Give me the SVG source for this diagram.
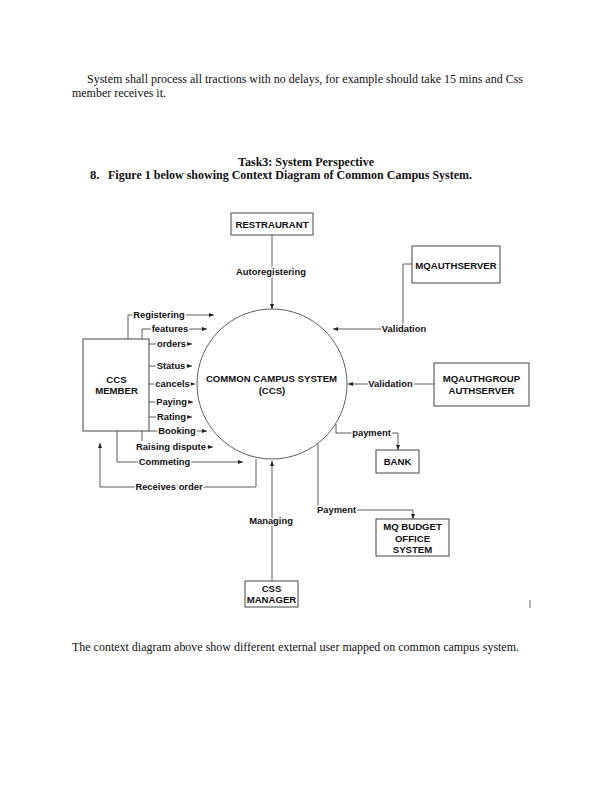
<svg xmlns="http://www.w3.org/2000/svg" width="612" height="792" viewBox="0 0 612 792">
<style>
.body{font-family:"Liberation Serif","Times New Roman",serif;font-size:12.6px;fill:#111}
.bold{font-weight:bold}
.box{fill:#fff;stroke:#444;stroke-width:1}
.bt{font-family:"Liberation Sans",Arial,sans-serif;font-size:9.6px;font-weight:bold;fill:#111;text-anchor:middle}
.lbl{font-family:"Liberation Sans",Arial,sans-serif;font-size:9.4px;font-weight:bold;fill:#111;text-anchor:middle;stroke:#fff;stroke-width:3;paint-order:stroke;stroke-linejoin:round}
.c{fill:none;stroke:#333;stroke-width:0.8}
.ca{fill:none;stroke:#333;stroke-width:0.8;marker-end:url(#ah)}
</style>
<defs>
<marker id="ah" markerUnits="userSpaceOnUse" markerWidth="5" markerHeight="4" refX="5" refY="2" orient="auto">
<path d="M0,0 L5,2 L0,4 z" fill="#222"/>
</marker>
</defs>
<rect width="612" height="792" fill="#fff"/>

<g id="text-top">
<text class="body" x="87" y="82.5" textLength="436" lengthAdjust="spacingAndGlyphs">System shall process all tractions with no delays, for example should take 15 mins and Css</text>
<text class="body" x="72" y="96.5" textLength="94" lengthAdjust="spacingAndGlyphs">member receives it.</text>
<text class="body bold" x="238" y="165.5" textLength="136" lengthAdjust="spacingAndGlyphs">Task3: System Perspective</text>
<text class="body bold" x="90" y="179">8.</text>
<text class="body bold" x="108" y="179" textLength="364" lengthAdjust="spacingAndGlyphs">Figure 1 below showing Context Diagram of Common Campus System.</text>
</g>

<g id="connectors">
<path class="ca" d="M272,235 V309"/>
<path class="ca" d="M412,264 H403 V329 H333"/>
<path class="ca" d="M434,384 H348"/>
<path class="ca" d="M336,424 V433 H398 V450"/>
<path class="ca" d="M318,444 V510 H413 V519"/>
<path class="ca" d="M272,581 V461"/>
<path class="ca" d="M256,459 V487 H100 V443"/>
<path class="ca" d="M128,339 V315 H214"/>
<path class="ca" d="M142,339 V329 H207"/>
<path class="ca" d="M149,344 H192"/>
<path class="ca" d="M149,366 H192"/>
<path class="ca" d="M149,384 H195"/>
<path class="ca" d="M149,402 H193"/>
<path class="ca" d="M149,417 H192"/>
<path class="ca" d="M149,431 H207"/>
<path class="c" d="M142,431 V441"/>
<path class="ca" d="M200,447 H213"/>
<path class="ca" d="M117,431 V462 H243"/>

<text class="lbl" x="271" y="275.4">Autoregistering</text>
<text class="lbl" x="404" y="332.4">Validation</text>
<text class="lbl" x="390.5" y="387.4">Validation</text>
<text class="lbl" x="371.5" y="436.4">payment</text>
<text class="lbl" x="336.5" y="513.4">Payment</text>
<text class="lbl" x="271" y="524.4">Managing</text>
<text class="lbl" x="169" y="490.4">Receives order</text>
<text class="lbl" x="159" y="318.4">Registering</text>
<text class="lbl" x="170" y="332.4">features</text>
<text class="lbl" x="171.5" y="347.4">orders</text>
<text class="lbl" x="171" y="369.4">Status</text>
<text class="lbl" x="172.5" y="387.4">cancels</text>
<text class="lbl" x="171.5" y="405.4">Paying</text>
<text class="lbl" x="171.5" y="420.4">Rating</text>
<text class="lbl" x="177" y="434.4">Booking</text>
<text class="lbl" x="171" y="450.4">Raising dispute</text>
<text class="lbl" x="164.5" y="465.4">Commeting</text>
</g>

<g id="ccs">
<circle cx="272" cy="384" r="75" fill="none" stroke="#333" stroke-width="0.8"/>
<text class="bt" x="271.5" y="381.5">COMMON CAMPUS SYSTEM</text>
<text class="bt" x="272" y="393.5">(CCS)</text>
</g>

<g id="restraurant">
<rect class="box" x="231" y="213" width="82" height="22"/>
<text class="bt" x="272" y="227.5">RESTRAURANT</text>
</g>

<g id="mqauthserver">
<rect class="box" x="412" y="246" width="88" height="37"/>
<text class="bt" x="456" y="268.5">MQAUTHSERVER</text>
</g>

<g id="mqauthgroup">
<rect class="box" x="434" y="363" width="95" height="43"/>
<text class="bt" x="481.5" y="381.5">MQAUTHGROUP</text>
<text class="bt" x="481.5" y="393.5">AUTHSERVER</text>
</g>

<g id="bank">
<rect class="box" x="376" y="450" width="43" height="23"/>
<text class="bt" x="397.5" y="464.5">BANK</text>
</g>

<g id="mqbudget">
<rect class="box" x="376" y="519" width="73" height="37"/>
<text class="bt" x="412.5" y="529.5">MQ BUDGET</text>
<text class="bt" x="412.5" y="541.5">OFFICE</text>
<text class="bt" x="412.5" y="552.5">SYSTEM</text>
</g>

<g id="ccsmember">
<rect class="box" x="83" y="339" width="66" height="92"/>
<text class="bt" x="116.5" y="382.5">CCS</text>
<text class="bt" x="116.5" y="393.5">MEMBER</text>
</g>

<g id="cssmanager">
<rect class="box" x="245" y="581" width="53" height="26"/>
<text class="bt" x="271.5" y="591.5">CSS</text>
<text class="bt" x="271.5" y="602.5">MANAGER</text>
</g>

<line x1="530" y1="600" x2="530" y2="608" stroke="#444" stroke-width="0.8"/>

<g id="text-bottom">
<text class="body" x="72" y="650.5" textLength="447" lengthAdjust="spacingAndGlyphs">The context diagram above show different external user mapped on common campus system.</text>
</g>
</svg>
